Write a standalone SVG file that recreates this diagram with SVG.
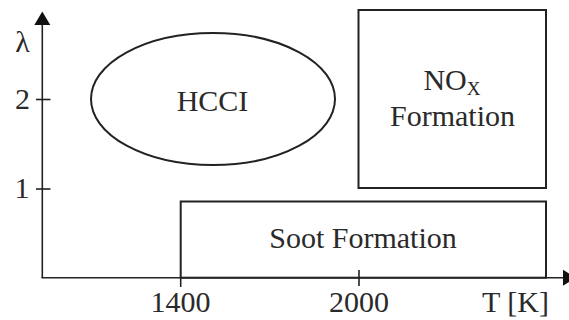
<svg xmlns="http://www.w3.org/2000/svg" width="569" height="320" viewBox="0 0 569 320">
<style>
.t{font-family:"Liberation Serif","Times New Roman",serif;font-size:30px;fill:#2a2a2a}
.s{fill:none;stroke:#222;stroke-width:2}
.ax{fill:none;stroke:#222;stroke-width:1.6}
</style>
<rect width="569" height="320" fill="#fff"/>
<g id="axes">
<line class="ax" x1="42.3" y1="24" x2="42.3" y2="278"/>
<line class="ax" x1="41.5" y1="277.7" x2="564" y2="277.7"/>
<polygon points="42.3,11.5 34.3,25 50.3,25" fill="#111"/>
<polygon points="576,277.7 563,269.7 563,285.7" fill="#111"/>
<line class="ax" x1="36" y1="99.5" x2="50.5" y2="99.5"/>
<line class="ax" x1="36" y1="189" x2="50.5" y2="189"/>
<line class="ax" x1="180.7" y1="277" x2="180.7" y2="287"/>
<line class="ax" x1="359" y1="270" x2="359" y2="286"/>
<text class="t" x="22.5" y="52" text-anchor="middle">λ</text>
<text class="t" x="22.5" y="108.5" text-anchor="middle">2</text>
<text class="t" x="22" y="198" text-anchor="middle">1</text>
<text class="t" x="180.5" y="311.5" text-anchor="middle">1400</text>
<text class="t" x="359" y="311.5" text-anchor="middle">2000</text>
<text class="t" x="515.5" y="311.5" text-anchor="middle">T [K]</text>
</g>
<g id="hcci">
<ellipse class="s" cx="213" cy="99" rx="122" ry="66"/>
<text class="t" x="212.5" y="110.5" text-anchor="middle">HCCI</text>
</g>
<g id="nox">
<rect class="s" x="358.5" y="10" width="187.5" height="178"/>
<text class="t" x="452" y="90" text-anchor="middle">NO<tspan font-size="19" dy="5">X</tspan></text>
<text class="t" x="452.5" y="126" text-anchor="middle">Formation</text>
</g>
<g id="soot">
<rect class="s" x="180.7" y="201.5" width="365.3" height="76.2"/>
<text class="t" x="363" y="248.3" text-anchor="middle">Soot Formation</text>
</g>
</svg>
